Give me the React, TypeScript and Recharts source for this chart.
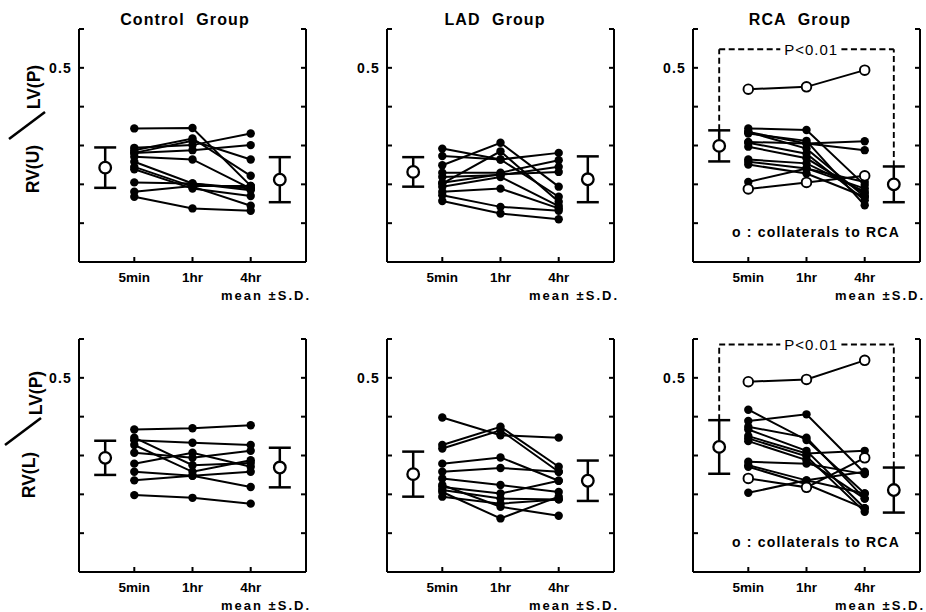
import { ComposedChart, ErrorBar, ReferenceDot, ReferenceLine, Scatter, XAxis, YAxis } from 'recharts'

// x positions: the three sampling times, and the mean ±S.D. markers at each side
const timePoints = [1, 2, 3]
const timeLabels = ['5min', '1hr', '4hr']
const summaryPoints = [0.5, 3.5]
const yTicks = [0, 0.1, 0.2, 0.3, 0.4, 0.5, 0.6]
const xDomain = [0.05, 3.95]
const yDomain = [0, 0.6]

// RV(U)/LV(P), one row per animal: [5min, 1hr, 4hr]
const controlU = [
  [0.344, 0.345, 0.196],
  [0.294, 0.301, 0.331],
  [0.288, 0.318, 0.222],
  [0.281, 0.288, 0.301],
  [0.281, 0.312, 0.264],
  [0.271, 0.264, 0.189],
  [0.258, 0.202, 0.185],
  [0.245, 0.194, 0.145],
  [0.239, 0.189, 0.17],
  [0.205, 0.202, 0.189],
  [0.181, 0.196, 0.196],
  [0.168, 0.138, 0.132],
]
const controlUMean = [0.243, 0.212]
const controlUSd = [0.052, 0.058]

const ladU = [
  [0.292, 0.264, 0.168],
  [0.273, 0.264, 0.281],
  [0.249, 0.307, 0.194],
  [0.23, 0.23, 0.262],
  [0.219, 0.224, 0.245],
  [0.204, 0.226, 0.232],
  [0.202, 0.285, 0.155],
  [0.194, 0.219, 0.144],
  [0.181, 0.189, 0.138],
  [0.172, 0.142, 0.132],
  [0.157, 0.125, 0.11],
]
const ladUMean = [0.232, 0.213]
const ladUSd = [0.038, 0.059]

const rcaU = [
  [0.344, 0.34, 0.198],
  [0.335, 0.305, 0.311],
  [0.331, 0.312, 0.146],
  [0.335, 0.292, 0.168],
  [0.309, 0.305, 0.288],
  [0.307, 0.279, 0.159],
  [0.297, 0.267, 0.176],
  [0.264, 0.254, 0.181],
  [0.258, 0.241, 0.189],
  [0.251, 0.228, 0.168],
  [0.206, 0.241, 0.206],
]
// animals with collaterals to RCA (open circles)
const rcaUCollateral = [
  [0.445, 0.451, 0.494],
  [0.188, 0.205, 0.222],
]
const rcaUMean = [0.299, 0.2]
const rcaUSd = [0.04, 0.046]
const rcaUBracket = 0.548

// RV(L)/LV(P)
const controlL = [
  [0.367, 0.37, 0.378],
  [0.339, 0.333, 0.327],
  [0.346, 0.275, 0.281],
  [0.327, 0.258, 0.288],
  [0.307, 0.294, 0.312],
  [0.279, 0.307, 0.271],
  [0.258, 0.248, 0.258],
  [0.236, 0.248, 0.219],
  [0.198, 0.191, 0.176],
]
const controlLMean = [0.294, 0.269]
const controlLSd = [0.044, 0.051]

const ladL = [
  [0.398, 0.352, 0.346],
  [0.327, 0.374, 0.271],
  [0.318, 0.365, 0.258],
  [0.279, 0.295, 0.235],
  [0.258, 0.268, 0.258],
  [0.241, 0.224, 0.206],
  [0.219, 0.202, 0.235],
  [0.211, 0.189, 0.187],
  [0.206, 0.138, 0.194],
  [0.194, 0.176, 0.187],
  [0.224, 0.168, 0.145],
]
const ladLMean = [0.252, 0.235]
const ladLSd = [0.058, 0.052]

const rcaL = [
  [0.418, 0.34, 0.202],
  [0.389, 0.406, 0.255],
  [0.374, 0.346, 0.189],
  [0.367, 0.312, 0.164],
  [0.35, 0.305, 0.312],
  [0.344, 0.298, 0.155],
  [0.337, 0.288, 0.189],
  [0.284, 0.279, 0.252],
  [0.275, 0.236, 0.258],
  [0.271, 0.226, 0.164],
  [0.204, 0.236, 0.202],
]
const rcaLCollateral = [
  [0.49, 0.496, 0.545],
  [0.241, 0.218, 0.294],
]
const rcaLMean = [0.322, 0.211]
const rcaLSd = [0.069, 0.058]
const rcaLBracket = 0.586

const FONT = '"Liberation Sans", Arial, Helvetica, sans-serif'
const PLOT_W = 227
const PLOT_H = 233
const M_LEFT = 40
const M_TOP = 30
const M_RIGHT = 10
const M_BOTTOM = 40
// inward tick length (5px) expressed in data units
const TICK_X = (5 / PLOT_W) * (xDomain[1] - xDomain[0])
const TICK_Y = (5 / PLOT_H) * (yDomain[1] - yDomain[0])

function FilledDot(props: any) {
  return <circle cx={props.cx} cy={props.cy} r={4.2} fill="#000" />
}

function OpenDot(props: any) {
  return <circle cx={props.cx} cy={props.cy} r={4.8} fill="#fff" stroke="#000" strokeWidth={1.9} />
}

function MeanDot(props: any) {
  return <circle cx={props.cx} cy={props.cy} r={5.8} fill="#fff" stroke="#000" strokeWidth={2.3} />
}

function XTick(props: any) {
  const label = timeLabels[timePoints.indexOf(props.payload?.value)] ?? ''
  return (
    <text
      fill="#000"
      fontFamily={FONT}
      fontSize={13.5}
      fontWeight={700}
      stroke="none"
      textAnchor="middle"
      x={props.x}
      y={M_TOP + PLOT_H + 19.5}
    >
      {label}
    </text>
  )
}

function YTick(props: any) {
  if (Math.abs(props.payload?.value - 0.5) > 1e-6) return <g />
  return (
    <text
      dy="0.36em"
      fill="#000"
      fontFamily={FONT}
      fontSize={14}
      fontWeight={700}
      letterSpacing={1.2}
      stroke="none"
      textAnchor="end"
      x={M_LEFT - 7}
      y={props.y}
    >
      0.5
    </text>
  )
}

function EmptyTick() {
  return <g />
}

const toPoints = (row: number[]) => row.map((y, j) => ({ x: timePoints[j], y }))

interface PanelProps {
  left: number
  top: number
  subjects: number[][]
  collateral?: number[][]
  mean: number[]
  sd: number[]
  bracket?: number
}

function Panel({ left, top, subjects, collateral = [], mean, sd, bracket }: PanelProps) {
  const meanData = summaryPoints.map((x, i) => ({ x, y: mean[i], sd: sd[i] }))
  const dash = { stroke: '#000', strokeWidth: 1.9, strokeDasharray: '6 3.5', ifOverflow: 'visible' as const }
  const tickStyle = { stroke: '#000', strokeWidth: 2, ifOverflow: 'visible' as const }

  return (
    <div style={{ position: 'absolute', left: left - M_LEFT, top: top - M_TOP }}>
      <ComposedChart
        width={M_LEFT + PLOT_W + M_RIGHT}
        height={M_TOP + PLOT_H + M_BOTTOM}
        margin={{ top: M_TOP, right: M_RIGHT, bottom: M_BOTTOM, left: M_LEFT }}
      >
        <XAxis
          allowDataOverflow
          dataKey="x"
          domain={xDomain}
          interval={0}
          mirror
          stroke="#000"
          strokeWidth={2}
          tick={XTick}
          tickLine={false}
          tickMargin={0}
          ticks={timePoints}
          type="number"
        />
        <YAxis
          dataKey="y"
          domain={yDomain}
          interval={0}
          mirror
          stroke="#000"
          strokeWidth={2}
          tick={YTick}
          tickLine={false}
          tickMargin={0}
          ticks={yTicks}
          type="number"
        />
        <YAxis
          domain={yDomain}
          interval={0}
          mirror
          orientation="right"
          stroke="#000"
          strokeWidth={2}
          tick={EmptyTick}
          tickLine={false}
          ticks={yTicks}
          type="number"
          yAxisId="r"
        />
        {/* inward tick marks on the left, right and bottom axes */}
        {yTicks.map((t) => (
          <ReferenceLine key={`yl${t}`} segment={[{ x: xDomain[0], y: t }, { x: xDomain[0] + TICK_X, y: t }]} {...tickStyle} />
        ))}
        {yTicks.map((t) => (
          <ReferenceLine key={`yr${t}`} segment={[{ x: xDomain[1] - TICK_X, y: t }, { x: xDomain[1], y: t }]} {...tickStyle} />
        ))}
        {timePoints.map((t) => (
          <ReferenceLine key={`xt${t}`} segment={[{ x: t, y: yDomain[0] }, { x: t, y: yDomain[0] + TICK_Y }]} {...tickStyle} />
        ))}
        {bracket !== undefined && (
          <ReferenceLine segment={[{ x: 0.5, y: mean[0] + sd[0] }, { x: 0.5, y: bracket }]} {...dash} />
        )}
        {bracket !== undefined && (
          <ReferenceLine segment={[{ x: 3.5, y: mean[1] + sd[1] }, { x: 3.5, y: bracket }]} {...dash} />
        )}
        {bracket !== undefined && (
          <ReferenceLine segment={[{ x: 0.5, y: bracket }, { x: 1.55, y: bracket }]} {...dash} />
        )}
        {bracket !== undefined && (
          <ReferenceLine segment={[{ x: 2.6, y: bracket }, { x: 3.5, y: bracket }]} {...dash} />
        )}
        {bracket !== undefined && (
          <ReferenceDot
            fill="none"
            ifOverflow="visible"
            label={{ value: 'P<0.01', position: 'center', fill: '#000', fontSize: 15, fontFamily: FONT, letterSpacing: 1 }}
            r={0}
            stroke="none"
            x={2.08}
            y={bracket}
          />
        )}
        {subjects.map((row, i) => (
          <Scatter
            data={toPoints(row)}
            isAnimationActive={false}
            key={`s${i}`}
            line={{ stroke: '#000', strokeWidth: 2 }}
            lineType="joint"
            shape={FilledDot}
          />
        ))}
        {collateral.map((row, i) => (
          <Scatter
            data={toPoints(row)}
            isAnimationActive={false}
            key={`c${i}`}
            line={{ stroke: '#000', strokeWidth: 2 }}
            lineType="joint"
            shape={OpenDot}
          />
        ))}
        <Scatter data={meanData} isAnimationActive={false} shape={MeanDot}>
          <ErrorBar dataKey="sd" direction="y" isAnimationActive={false} stroke="#000" strokeWidth={2.5} width={11} />
        </Scatter>
      </ComposedChart>
    </div>
  )
}

const panelLefts = [79, 387, 693]
const rowTops = [29, 339]
const panelTitles = ['Control Group', 'LAD Group', 'RCA Group']
const titleCenters = [185, 495, 800]

function YLabel({ x, y, lower, upper, x2 }: { x: number; y: number; lower: string; upper: string; x2: number }) {
  return (
    <g fontFamily={FONT} fontSize={17.5} fontWeight={700} fill="#000">
      <text textAnchor="middle" transform={`translate(${x},${y}) rotate(-90)`}>
        {lower}
      </text>
      <line stroke="#000" strokeWidth={2.6} x1={x - 30} x2={x + 6} y1={y - 30} y2={y - 57} />
      <text textAnchor="middle" transform={`translate(${x2},${y - 82}) rotate(-90)`}>
        {upper}
      </text>
    </g>
  )
}

export default function App() {
  return (
    <div style={{ position: 'absolute', left: 0, top: 0, width: 926, height: 612, background: '#fff', overflow: 'hidden' }}>
      <Panel left={panelLefts[0]} top={rowTops[0]} subjects={controlU} mean={controlUMean} sd={controlUSd} />
      <Panel left={panelLefts[1]} top={rowTops[0]} subjects={ladU} mean={ladUMean} sd={ladUSd} />
      <Panel
        left={panelLefts[2]}
        top={rowTops[0]}
        subjects={rcaU}
        collateral={rcaUCollateral}
        mean={rcaUMean}
        sd={rcaUSd}
        bracket={rcaUBracket}
      />
      <Panel left={panelLefts[0]} top={rowTops[1]} subjects={controlL} mean={controlLMean} sd={controlLSd} />
      <Panel left={panelLefts[1]} top={rowTops[1]} subjects={ladL} mean={ladLMean} sd={ladLSd} />
      <Panel
        left={panelLefts[2]}
        top={rowTops[1]}
        subjects={rcaL}
        collateral={rcaLCollateral}
        mean={rcaLMean}
        sd={rcaLSd}
        bracket={rcaLBracket}
      />
      <svg width={926} height={612} style={{ position: 'absolute', left: 0, top: 0, pointerEvents: 'none' }}>
        {panelTitles.map((t, i) => (
          <text
            fill="#000"
            fontFamily={FONT}
            fontSize={16}
            fontWeight={700}
            key={t}
            letterSpacing={1.1}
            textAnchor="middle"
            wordSpacing={6}
            x={titleCenters[i]}
            y={25}
          >
            {t}
          </text>
        ))}
        {rowTops.map((top) =>
          panelLefts.map((left) => (
            <text
              fill="#000"
              fontFamily={FONT}
              fontSize={13}
              fontWeight={700}
              key={`m${top}-${left}`}
              letterSpacing={2}
              textAnchor="end"
              x={left + PLOT_W + 5}
              y={top + PLOT_H + 38}
            >
              mean ±S.D.
            </text>
          )),
        )}
        {rowTops.map((top, i) => (
          <text
            fill="#000"
            fontFamily={FONT}
            fontSize={14}
            fontWeight={700}
            key={`o${top}`}
            letterSpacing={1.2}
            textAnchor="middle"
            x={816}
            y={i === 0 ? 237 : 547}
          >
            o : collaterals to RCA
          </text>
        ))}
        <YLabel x={39} y={169} x2={40} lower="RV(U)" upper="LV(P)" />
        <YLabel x={35} y={475} x2={42} lower="RV(L)" upper="LV(P)" />
      </svg>
    </div>
  )
}
